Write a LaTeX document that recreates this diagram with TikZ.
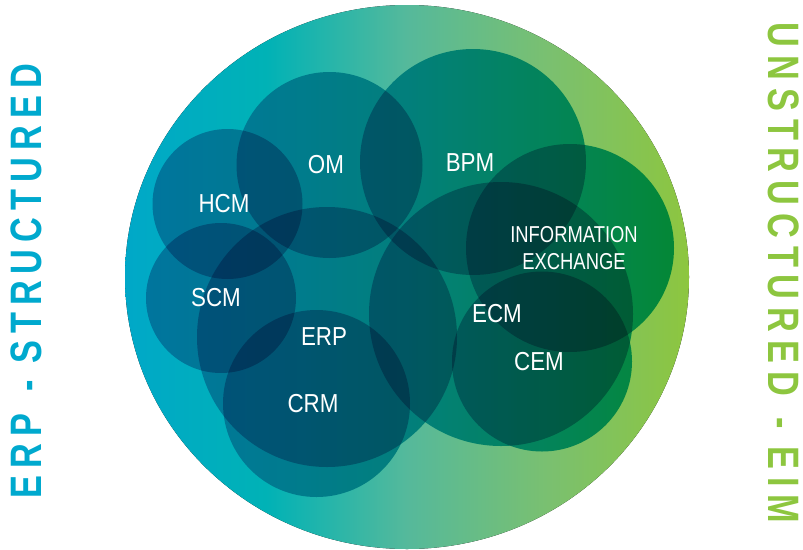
\documentclass[tikz,border=0pt]{standalone}
\usepackage{fontspec}
\setmainfont{Liberation Sans}[FakeStretch=0.86]
\newfontfamily\iefont{Liberation Sans}[FakeStretch=0.8]
\newfontfamily\sidefontL{Liberation Sans Bold}[FakeStretch=0.78, LetterSpace=16]
\newfontfamily\sidefontR{Liberation Sans Bold}[FakeStretch=0.78, LetterSpace=18]
\definecolor{bgA}{RGB}{0,168,200}
\definecolor{bgB}{RGB}{0,178,182}
\definecolor{bgC}{RGB}{85,185,155}
\definecolor{bgD}{RGB}{122,192,112}
\definecolor{bgE}{RGB}{141,198,63}
\definecolor{ov}{rgb}{0.03,0.69,0.80}
\definecolor{sidecyan}{RGB}{0,169,206}
\definecolor{sidegreen}{RGB}{141,198,63}
\pgfdeclarehorizontalshading{bgshade}{100bp}{color(0bp)=(bgA); color(25bp)=(bgA); color(37.5bp)=(bgB); color(50bp)=(bgC); color(62.5bp)=(bgD); color(75bp)=(bgE); color(100bp)=(bgE)}
\tikzset{
  bub/.style={circle, fill=ov, blend mode=multiply, inner sep=0pt, outer sep=0pt},
  lbl/.style={text=white, inner sep=0pt, font=\fontsize{26}{28}\selectfont},
  ielbl/.style={text=white, inner sep=0pt, align=center, font=\iefont\fontsize{23}{27}\selectfont},
  sideL/.style={inner sep=0pt, font=\sidefontL\fontsize{44}{44}\selectfont},
  sideR/.style={inner sep=0pt, font=\sidefontR\fontsize{44}{44}\selectfont}
}
\begin{document}
\begin{tikzpicture}[x=1pt,y=-1pt]
\useasboundingbox (0,0) rectangle (803,549);
\fill[shading=bgshade] (407,277) ellipse[x radius=282, y radius=272];
\node[bub, minimum size=150pt] (hcm) at (227.5,204) {};
\node[bub, minimum size=186pt] (om) at (329.5,165) {};
\node[bub, minimum size=226pt] (bpm) at (473,162) {};
\node[bub, minimum size=208pt] (ie) at (570,248) {};
\node[bub, minimum size=150pt] (scm) at (221,298) {};
\node[bub, minimum size=260pt] (erp) at (327,337) {};
\node[bub, minimum size=187pt] (crm) at (316.5,403.5) {};
\node[bub, minimum size=264pt] (ecm) at (501,314) {};
\node[bub, minimum size=180pt] (cem) at (542,361.5) {};
\node[lbl] (tom) at (326,165) {OM};
\node[lbl] (tbpm) at (470,163) {BPM};
\node[lbl] (thcm) at (224,204) {HCM};
\node[lbl] (tscm) at (216,298) {SCM};
\node[lbl] (terp) at (324,337) {ERP};
\node[lbl] (tcrm) at (313,404) {CRM};
\node[lbl] (tecm) at (497,314) {ECM};
\node[lbl] (tcem) at (539,362) {CEM};
\node[ielbl] (tie) at (574,248) {INFORMATION\\EXCHANGE};
\node[sideL, text=sidecyan, rotate=90] (lside) at (26,281) {ERP\hspace{5pt} - STRUCTURED};
\node[sideR, text=sidegreen, rotate=-90] (rside) at (784,273) {UNSTRUCTURED\hspace{4pt} - EIM};
\end{tikzpicture}
\end{document}
